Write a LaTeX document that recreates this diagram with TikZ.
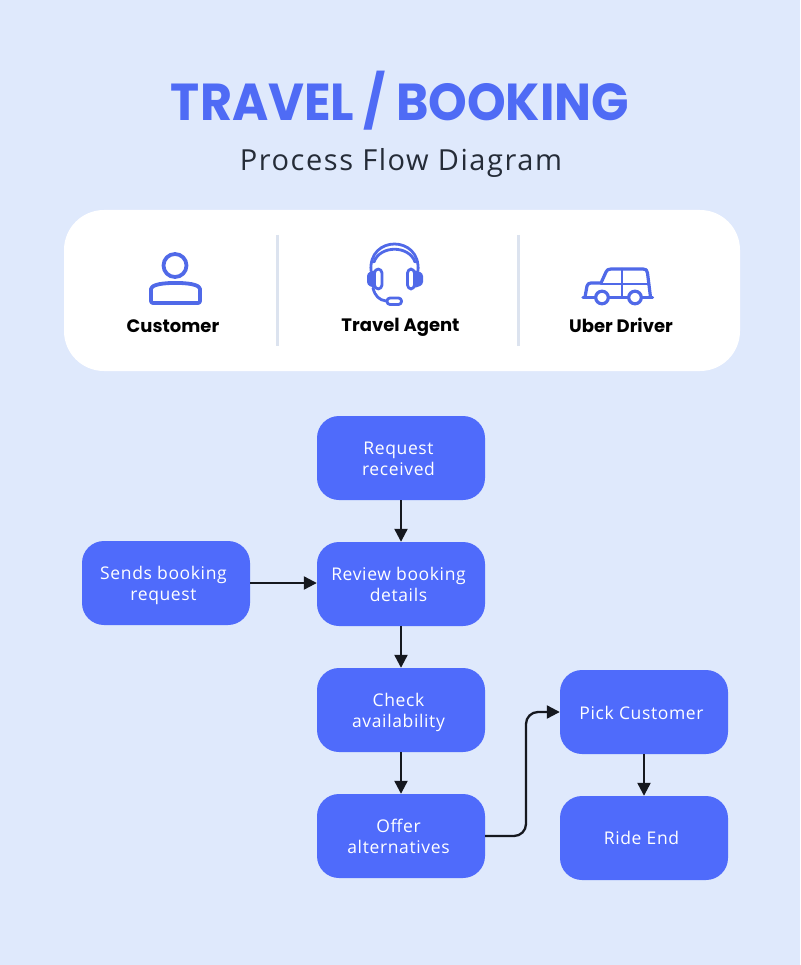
\documentclass[tikz,border=0pt]{standalone}
\usepackage{fontspec}
\setmainfont{Open Sans}
\newfontfamily\pop{Poppins}
\newfontfamily\subfont[LetterSpace=5.4]{Open Sans}
\newfontfamily\boxfont[LetterSpace=3.6]{Open Sans}
\usetikzlibrary{arrows.meta}
\definecolor{bgc}{HTML}{DFE9FC}
\definecolor{boxc}{HTML}{4F6BFB}
\definecolor{iconc}{HTML}{5069E8}
\definecolor{sepc}{HTML}{DCE3EF}
\definecolor{titlec}{HTML}{4F6BF5}
\definecolor{subc}{HTML}{252C38}
\definecolor{linec}{HTML}{15181F}
\tikzset{
 x=1pt,y=-1pt,
 flowbox/.style={draw=none,fill=boxc,rounded corners=22pt,minimum width=168pt,minimum height=84pt,inner sep=0pt},
 flowtext/.style={inner sep=0pt,align=center,text=white,font=\boxfont\fontsize{17.5}{21}\selectfont,xshift=-2.5pt},
 conn/.style={draw=linec,line width=2.3pt,-{Triangle[length=13pt,width=13pt]},rounded corners=12pt},
 ic/.style={draw=iconc,line width=3.8pt,line join=round,line cap=round},
 icthin/.style={draw=iconc,line width=2.8pt,line join=round,line cap=round},
 role/.style={font=\pop\bfseries\fontsize{18}{22}\selectfont,text=black,inner sep=0pt,anchor=base},
}
\begin{document}
\begin{tikzpicture}
\useasboundingbox (0,0) rectangle (800,965);
\fill[bgc] (0,0) rectangle (800,965);
\node[inner sep=0pt,text=titlec] (title) at (400,101) {\scalebox{.946}[1]{\pop\bfseries\fontsize{52}{60}\selectfont TRAVEL\kern-1.5pt\ /\ BOOKING}};
\node[inner sep=0pt,text=subc] (sub) at (401,163) {\subfont\fontsize{29}{34}\selectfont Process Flow Diagram};
\fill[white,rounded corners=40pt] (64,210) rectangle (740,371);
\draw[sepc,line width=3pt] (277,235) -- (277,346);
\draw[sepc,line width=3pt] (518.5,235) -- (518.5,346);
\node[role] (r1) at (173,332) {Customer};
\node[role] (r2) at (400.5,331) {Travel Agent};
\node[role] (r3) at (621,332) {Uber Driver};
% person
\draw[ic] (175,265.5) circle (11.5);
\draw[ic,rounded corners=2pt] (151,303) -- (151,291) .. controls (151,286) and (158,283) .. (175.5,283) .. controls (193,283) and (200,286) .. (200,291) -- (200,303) -- cycle;
% headset
\draw[icthin] (371,271) .. controls (368,235) and (421,235) .. (418,271);
\draw[icthin] (374,262) .. controls (380,245) and (409,245) .. (415,262);
\fill[iconc,rounded corners=3pt] (376,269.5) -- (367,273) -- (367,285) -- (376,288.5) -- cycle;
\fill[iconc,rounded corners=3pt] (413,269.5) -- (423,273) -- (423,285) -- (413,288.5) -- cycle;
\draw[ic,line width=2.8pt,rounded corners=4pt,fill=white] (374.5,269) rectangle (382,289);
\draw[ic,line width=2.8pt,rounded corners=4pt,fill=white] (407.5,269) rectangle (414.5,289);
\draw[icthin] (373,288) .. controls (375,296) and (379,300) .. (386,301);
\draw[ic,line width=2.8pt,rounded corners=3pt] (387,298) rectangle (401.5,304.5);
% car
\draw[ic,line width=3.2pt] (583,297.5) -- (595,297.5);
\draw[ic,line width=3.2pt] (609,297.5) -- (628,297.5);
\draw[ic,line width=3.2pt] (642,297.5) -- (652.5,297.5);
\draw[ic,line width=3.2pt] (585,297) -- (587,286) .. controls (587.5,284) and (589,283) .. (591,283) -- (601,283) -- (606,272) .. controls (607,270) and (608,269) .. (611,269) -- (643,269) .. controls (646,269) and (647,270) .. (647.5,273) -- (650.5,297);
\draw[ic,line width=2.6pt] (601,284) -- (649,284);
\draw[ic,line width=2.6pt] (622,269) -- (622,297);
\draw[ic,line width=3.2pt,fill=white] (602,297.5) circle (6.3);
\draw[ic,line width=3.2pt,fill=white] (635,297.5) circle (6.3);
% flow
\node[flowbox,label={[flowtext,yshift=-0.5pt]center:Request\\received}] (req) at (401,458) {};
\node[flowbox,label={[flowtext]center:Review booking\\details}] (rev) at (401,584) {};
\node[flowbox,label={[flowtext,yshift=-2pt]center:Sends booking\\request}] (send) at (166,583) {};
\node[flowbox,label={[flowtext,yshift=-2pt]center:Check\\availability}] (chk) at (401,710) {};
\node[flowbox,label={[flowtext]center:Offer\\alternatives}] (off) at (401,836) {};
\node[flowbox,label={[flowtext,yshift=-1pt]center:Pick Customer}] (pick) at (644,712) {};
\node[flowbox,label={[flowtext]center:Ride End}] (end) at (644,838) {};
\draw[conn] (req) -- (rev);
\draw[conn] (send.east) -- (rev.west |- send.east);
\draw[conn] (rev) -- (chk);
\draw[conn] (chk) -- (off);
\draw[conn] (off.east) -- (526,836) -- (526,712) -- (pick.west);
\draw[conn] (pick) -- (end);
\end{tikzpicture}
\end{document}
